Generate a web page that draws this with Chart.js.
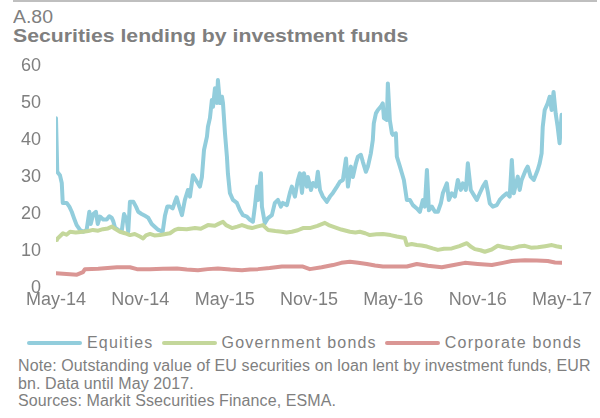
<!DOCTYPE html>
<html>
<head>
<meta charset="utf-8">
<script src="https://cdn.jsdelivr.net/npm/chart.js@4.4.0/dist/chart.umd.min.js"></script>
<style>
    body { margin: 0; background: #fff; font-family: "Liberation Sans", Arial, sans-serif; color: #7f7f7f; }
    #wrap { position: relative; width: 600px; height: 418px; overflow: hidden; }
    #topline { position: absolute; left: 13px; top: 0; width: 584px; height: 2px; background: #bfbfbf; }
    #num { position: absolute; left: 13px; top: 8px; font-size: 18px; line-height: 18px; transform: scaleX(1.08); transform-origin: left; white-space: nowrap; }
    #title { position: absolute; left: 13px; top: 26.5px; font-size: 18px; line-height: 18px; font-weight: bold; transform: scaleX(1.18); transform-origin: left; white-space: nowrap; }
    #chartBox { position: absolute; left: 0; top: 0; width: 600px; height: 320px; }
    #legend { position: absolute; left: 27px; top: 334.5px; display: flex; align-items: center; font-size: 16px; line-height: 16px; letter-spacing: 1.2px; white-space: nowrap; }
    #legend .sw { width: 55px; height: 4px; border-radius: 2px; margin-right: 5px; }
    #legend .lb { margin-right: 8px; }
    #notes { position: absolute; left: 18px; top: 357.4px; font-size: 16px; line-height: 17.5px; letter-spacing: 0.1px; white-space: nowrap; }
</style>
</head>
<body>
<div id="wrap">
    <div id="topline"></div>
    <div id="num">A.80</div>
    <div id="title">Securities lending by investment funds</div>
    <div id="chartBox"><canvas id="chartOne" width="600" height="320"></canvas></div>
    <div id="legend"></div>
    <div id="notes">Note: Outstanding value of EU securities on loan lent by investment funds, EUR<br>bn. Data until May 2017.<br>Sources: Markit Ssecurities Finance, ESMA.</div>
</div>
<script>
// x values are months since May 2014, y values EUR bn
const tickMonths = [0, 6, 12, 18, 24, 30, 36];
const tickLabels = ['May-14', 'Nov-14', 'May-15', 'Nov-15', 'May-16', 'Nov-16', 'May-17'];
const seriesNames = ['Equities', 'Government bonds', 'Corporate bonds'];
const seriesColors = ['#92cddc', '#c4d79b', '#da9694'];

const eqMonths = [0.00, 0.09, 0.28, 0.41, 0.48, 0.76, 0.95, 1.12, 1.28, 1.47, 1.71, 1.94, 2.18, 2.37, 2.47, 2.65, 2.84, 2.97, 3.13, 3.36,
    3.61, 3.79, 3.96, 4.08, 4.20, 4.43, 4.67, 4.84, 5.03, 5.14, 5.26, 5.50, 5.69, 5.85, 6.09, 6.33, 6.56, 6.81, 7.04, 7.28,
    7.59, 7.75, 7.92, 8.11, 8.30, 8.46, 8.58, 8.77, 8.96, 9.17, 9.39, 9.53, 9.74, 10.03, 10.24, 10.38, 10.53, 10.74, 10.81, 10.95,
    11.09, 11.17, 11.31, 11.45, 11.52, 11.66, 11.81, 11.88, 12.02, 12.16, 12.23, 12.37, 12.59, 12.87, 13.09, 13.30, 13.58, 13.80, 14.01, 14.15,
    14.30, 14.37, 14.58, 14.65, 14.86, 15.08, 15.36, 15.57, 15.79, 16.00, 16.14, 16.43, 16.64, 16.78, 17.00, 17.21, 17.35, 17.50, 17.64, 17.85,
    17.92, 18.14, 18.28, 18.49, 18.63, 18.78, 18.99, 19.27, 19.49, 19.70, 19.99, 20.20, 20.41, 20.63, 20.77, 20.98, 21.12, 21.34, 21.48, 21.69,
    21.83, 22.05, 22.19, 22.40, 22.54, 22.61, 22.76, 22.90, 23.11, 23.25, 23.33, 23.54, 23.61, 23.75, 23.90, 23.97, 24.18, 24.25, 24.47, 24.61,
    24.75, 24.96, 25.18, 25.39, 25.67, 25.89, 26.10, 26.24, 26.39, 26.53, 26.74, 26.96, 27.17, 27.38, 27.52, 27.81, 27.95, 28.16, 28.38, 28.59,
    28.80, 28.95, 29.16, 29.30, 29.51, 29.73, 29.94, 30.15, 30.37, 30.58, 30.72, 30.86, 31.08, 31.36, 31.57, 31.79, 32.07, 32.28, 32.43, 32.57,
    32.85, 32.99, 33.13, 33.42, 33.56, 33.77, 33.99, 34.27, 34.41, 34.55, 34.63, 34.77, 34.98, 35.12, 35.26, 35.40, 35.55, 35.69, 35.83, 35.97];
const eqValues = [45.9, 31.4, 30.5, 28.4, 23.0, 23.0, 22.0, 20.6, 18.9, 17.0, 15.7, 15.2, 15.7, 20.6, 17.3, 20.0, 20.6, 17.3, 19.3, 18.5,
    18.5, 19.4, 19.0, 18.0, 16.3, 15.7, 15.2, 20.0, 18.5, 15.2, 23.3, 23.3, 22.0, 20.6, 20.0, 19.5, 19.0, 17.3, 16.5, 15.7,
    15.2, 19.5, 22.0, 22.0, 21.5, 23.3, 24.5, 22.0, 19.7, 23.8, 26.5, 24.7, 30.5, 28.7, 27.4, 30.0, 37.3, 40.9, 43.6, 45.9,
    50.8, 49.0, 54.0, 50.0, 56.2, 50.0, 51.7, 50.0, 41.9, 35.5, 31.0, 25.7, 23.8, 23.0, 21.0, 19.7, 19.3, 18.4, 17.9, 22.0,
    27.4, 23.8, 31.0, 22.0, 17.5, 18.9, 19.7, 23.0, 23.8, 22.0, 23.0, 22.4, 25.7, 27.4, 24.7, 29.2, 31.0, 25.7, 31.0, 27.4,
    30.0, 26.5, 28.4, 27.4, 31.4, 26.5, 24.7, 23.3, 24.7, 25.7, 27.4, 28.7, 29.2, 35.0, 27.4, 32.8, 30.0, 33.7, 35.5, 36.0,
    34.1, 31.4, 32.8, 36.4, 40.0, 44.5, 47.2, 48.1, 49.0, 49.9, 45.9, 45.4, 55.3, 45.4, 41.8, 41.4, 41.8, 35.5, 32.8, 31.0,
    29.2, 23.8, 23.8, 22.4, 21.5, 20.6, 23.8, 22.0, 31.9, 21.0, 22.0, 20.6, 20.6, 22.9, 25.6, 28.3, 23.8, 25.6, 24.7, 29.2,
    26.5, 28.3, 26.5, 33.7, 26.5, 25.1, 23.8, 25.6, 27.4, 28.7, 26.0, 22.9, 22.0, 22.4, 23.8, 24.7, 25.6, 24.7, 34.6, 25.6,
    30.1, 26.5, 29.2, 31.9, 32.8, 30.1, 29.2, 31.9, 33.7, 36.4, 43.6, 48.1, 49.9, 51.7, 48.1, 53.0, 47.2, 43.6, 39.1, 46.8];

const govMonths = [0, 0.07, 0.5, 0.75, 1.0, 1.4, 1.92, 2.3, 2.63, 3.0, 3.34, 3.7, 3.98, 4.2, 4.55, 4.9, 5.26, 5.6, 5.97, 6.2,
    6.4, 6.69, 7.0, 7.4, 7.8, 8.11, 8.46, 8.68, 9.3, 9.89, 10.3, 10.81, 11.3, 11.6, 11.88, 12.1, 12.52, 12.9, 13.23, 13.6,
    13.94, 14.3, 14.72, 15.08, 15.6, 16.07, 16.4, 16.78, 17.2, 17.57, 18.06, 18.6, 19.13, 19.4, 19.7, 20.3, 20.91, 21.3, 21.62, 22.0,
    22.33, 22.8, 23.26, 23.8, 24.25, 24.82, 24.96, 25.3, 25.67, 26.0, 26.39, 26.8, 27.17, 27.6, 28.16, 28.7, 29.23, 29.5, 29.8, 30.2,
    30.51, 31.0, 31.43, 31.9, 32.43, 32.9, 33.36, 33.8, 34.28, 34.8, 35.28, 35.6, 35.97];
const govValues = [13.0, 13.2, 14.8, 14.4, 15.2, 15.0, 15.2, 15.4, 15.7, 15.5, 15.9, 16.1, 16.6, 16.0, 15.2, 14.8, 14.3, 14.6, 13.9, 13.4,
    14.2, 14.6, 14.2, 14.3, 14.6, 14.8, 15.7, 16.0, 15.9, 16.2, 16.0, 17.0, 16.8, 17.4, 17.9, 17.0, 16.2, 16.6, 17.0, 16.5,
    16.2, 16.6, 17.0, 15.7, 15.4, 15.2, 15.0, 15.2, 15.6, 16.2, 16.2, 16.8, 17.6, 17.0, 16.6, 15.8, 15.2, 15.0, 15.2, 14.8,
    14.3, 14.5, 14.6, 14.3, 13.9, 13.5, 11.6, 11.9, 11.6, 11.5, 11.2, 10.7, 10.3, 10.6, 10.7, 11.3, 12.1, 11.2, 10.5, 10.2,
    9.8, 10.4, 11.4, 11.0, 10.7, 11.2, 11.4, 10.9, 11.0, 11.3, 11.6, 11.3, 11.0];

const corpMonths = [0, 1.49, 1.92, 2.06, 3.0, 4.34, 5.26, 5.76, 6.69, 7.6, 8.61, 9.3, 10.1, 10.8, 11.52, 12.4, 13.23, 13.8, 14.37, 15.2,
    16.07, 16.9, 17.57, 18.06, 18.9, 19.7, 20.3, 20.91, 21.5, 22.12, 22.7, 23.26, 24.1, 24.96, 25.67, 26.46, 27.45, 28.3, 29.09, 30.0,
    31.01, 31.8, 32.43, 33.36, 34.2, 34.99, 35.5, 35.97];
const corpValues = [4.0, 3.6, 4.3, 5.1, 5.2, 5.6, 5.6, 5.1, 5.1, 5.2, 5.3, 5.0, 4.8, 5.1, 5.3, 5.0, 4.8, 5.0, 5.1, 5.4,
    5.8, 5.8, 5.8, 5.1, 5.6, 6.2, 6.8, 7.1, 6.8, 6.5, 6.1, 5.8, 5.8, 5.8, 6.5, 6.0, 5.6, 6.2, 6.8, 6.5,
    6.2, 6.8, 7.3, 7.5, 7.4, 7.3, 6.9, 6.8];

const textGrey = '#7f7f7f';
const axisFont = { family: '"Liberation Sans", Arial, sans-serif', size: 18 };

function toPoints(xs, ys) {
    return xs.map((x, i) => ({ x: x, y: ys[i] }));
}

window.addEventListener('load', setupOne);

function setupOne() {
    // html legend, Excel style line samples
    const legend = document.getElementById('legend');
    seriesNames.forEach((name, i) => {
        const sw = document.createElement('span');
        sw.className = 'sw';
        sw.style.background = seriesColors[i];
        const lb = document.createElement('span');
        lb.className = 'lb';
        lb.textContent = name;
        legend.appendChild(sw);
        legend.appendChild(lb);
    });

    const ctx = document.getElementById('chartOne').getContext('2d');
    const myChart = new Chart(ctx, {
        type: 'line',
        data: {
            datasets: [
                { label: seriesNames[0], data: toPoints(eqMonths, eqValues), borderColor: seriesColors[0], order: 2 },
                { label: seriesNames[1], data: toPoints(govMonths, govValues), borderColor: seriesColors[1], order: 1 },
                { label: seriesNames[2], data: toPoints(corpMonths, corpValues), borderColor: seriesColors[2], order: 0 }
            ]
        },
        options: {
            responsive: false,
            animation: false,
            layout: {
                padding: { top: 66, right: 38, left: 0, bottom: 0 }
            },
            elements: {
                point: { radius: 0 },
                line: { borderWidth: 4, tension: 0, borderCapStyle: 'round', borderJoinStyle: 'round' }
            },
            plugins: {
                legend: { display: false },
                tooltip: { enabled: false }
            },
            scales: {
                x: {
                    type: 'linear',
                    min: 0,
                    max: 36,
                    grid: { display: false, drawTicks: false },
                    border: { display: false },
                    afterBuildTicks: (axis) => {
                        axis.ticks = tickMonths.map(v => ({ value: v }));
                    },
                    afterFit: (axis) => { axis.height = 32; },
                    ticks: {
                        color: textGrey,
                        font: axisFont,
                        padding: 1,
                        maxRotation: 0,
                        autoSkip: false,
                        callback: (value) => tickLabels[tickMonths.indexOf(value)]
                    }
                },
                y: {
                    min: 0,
                    max: 60,
                    grid: { display: false, drawTicks: false },
                    border: { display: false },
                    afterFit: (axis) => { axis.width = 56; },
                    ticks: {
                        stepSize: 10,
                        color: textGrey,
                        font: axisFont,
                        padding: 15
                    }
                }
            }
        }
    });
}
</script>
</body>
</html>
